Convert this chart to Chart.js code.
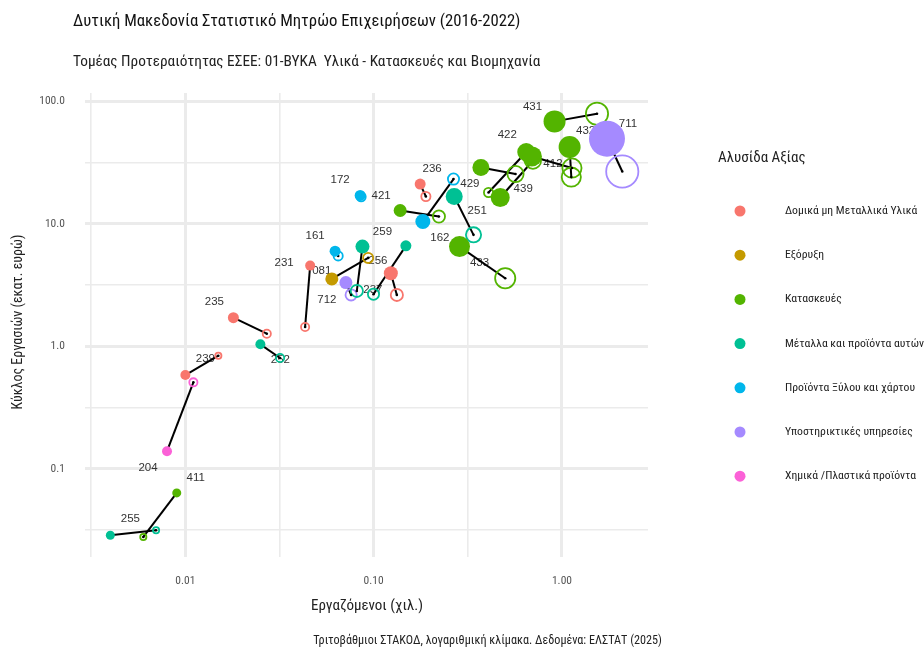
<!DOCTYPE html>
<html><head><meta charset="utf-8">
<script src="https://cdn.jsdelivr.net/npm/chart.js@4.4.1/dist/chart.umd.min.js"></script>
<style>html,body{margin:0;padding:0;background:#fff}canvas{display:block}</style>
</head><body>
<canvas id="c" width="924" height="649"></canvas>
<script>
// ---------------- DATA ----------------
const categories = ['Δομικά μη Μεταλλικά Υλικά','Εξόρυξη','Κατασκευές','Μέταλλα και προϊόντα αυτών','Προϊόντα Ξύλου και χάρτου','Υποστηρικτικές υπηρεσίες','Χημικά /Πλαστικά προϊόντα'];
const codes    = ['255','411','204','239','235','252','231','172','161','081','259','712','237','256','236','421','162','251','433','429','439','422','412','432','431','711'];
const chain    = [3,2,6,0,0,3,0,4,4,1,3,5,0,3,0,2,4,3,2,2,2,2,2,2,2,5];
// 2016 (hollow) - employees (thousands) and turnover (million €)
const emp2016  = [0.00699,0.00598,0.01103,0.01497,0.02707,0.03185,0.04325,0.0858,0.0648,0.0935,0.0814,0.0759,0.1328,0.0998,0.1894,0.2221,0.2655,0.3391,0.4996,0.5668,0.7014,0.4074,1.130,1.121,1.535,2.091];
const turn2016 = [0.03138,0.02767,0.5073,0.838,1.268,0.802,1.439,16.67,5.48,5.279,2.835,2.63,2.63,2.665,16.76,11.5,23.26,8.14,3.60,25.56,32.84,18.07,28.62,24.15,79.6,26.84];
// 2022 (filled)
const emp2022  = [0.003995,0.0090,0.00799,0.0100,0.01799,0.02503,0.046,0.08479,0.0624,0.05995,0.0872,0.0712,0.1234,0.1483,0.1766,0.1383,0.1825,0.2678,0.2857,0.3712,0.47,0.6461,0.6928,1.098,0.9135,1.734];
const turn2022 = [0.02856,0.0634,0.139,0.582,1.714,1.038,4.566,17.08,5.99,3.554,6.53,3.315,3.957,6.62,21.17,12.87,10.46,16.76,6.53,28.94,16.44,38.7,35.61,42.5,68.87,49.7];
// bubble size (radius estimate)
const size2016 = [4,4,5,4,5,5,5,5.5,5.5,6,7,6.5,7,6.5,5.5,7,6.5,8.5,11,9,9,5.5,10.5,10.5,12,17];
const size2022 = [4.5,4.5,5,5,5.5,5,5,5.5,5.5,6.5,7,6.5,7,5.5,5.5,6.5,7.5,8.5,10.5,8.5,9.5,9,10,11,11,18];
// axis ticks
const xTickValues = [0.01,0.1,1];
const xTickLabels = ['0.01','0.10','1.00'];
const yTickValues = [0.1,1,10,100];
const yTickLabels = ['0.1','1.0','10.0','100.0'];

// ---------------- STYLE ----------------
const colors = ['#F8766D','#C49A00','#53B400','#00C094','#00B6EB','#A58AFF','#FB61D7'];
const FC = '"Roboto Condensed","Liberation Sans Narrow","DejaVu Sans Condensed","Arial Narrow",sans-serif';
const FL = '"Liberation Sans",Arial,sans-serif';
// label offsets (px) relative to the 2022 point
const labelOffset = {
  '255':[20,-16],'411':[19,-15],'204':[-19,17],'239':[20,-16],'235':[-19,-16],'252':[20,16],'231':[-26,-3],
  '172':[-20,-16],'161':[-20,-15],'081':[-10,-8],'259':[20,-15],'712':[-19,17],'237':[-18,17],'256':[-28,15],
  '236':[12,-15],'421':[-19,-15],'162':[17,16],'251':[23,14],'433':[20,16],'429':[-11,16],'439':[23,-9],
  '422':[-19,-17],'412':[21,7],'432':[16,-16],'431':[-22,-15],'711':[21,-15]
};

function minorBetween(vals){ // gridline values: geometric midpoints + majors
  const out=[];
  vals.forEach(v=>{ out.push(v/Math.sqrt(10)); out.push(v); });
  return out;
}
const xGrid = minorBetween(xTickValues);
const yGrid = minorBetween(yTickValues);

const datasets = [];
codes.forEach((c,i)=>{
  datasets.push({type:'line', data:[{x:emp2016[i],y:turn2016[i]},{x:emp2022[i],y:turn2022[i]}],
    borderColor:'#000', borderWidth:2, pointRadius:0, order:5, tension:0});
});
categories.forEach((cat,k)=>{
  const idx = codes.map((c,i)=>i).filter(i=>chain[i]===k);
  datasets.push({type:'bubble', data: idx.map(i=>({x:emp2016[i],y:turn2016[i],r:size2016[i]-0.9})),
    backgroundColor:'rgba(255,255,255,0)', borderColor:colors[k], borderWidth:1.8, order:3});
  datasets.push({type:'bubble', data: idx.map(i=>({x:emp2022[i],y:turn2022[i],r:size2022[i]})),
    backgroundColor:colors[k], borderColor:colors[k], borderWidth:0, order:1});
});
datasets.push({type:'scatter', data: codes.map((c,i)=>({x:emp2016[i],y:turn2016[i]})),
  pointRadius:1.3, backgroundColor:'#000', borderWidth:0, order:2});

const decor = {
  id:'decor',
  beforeDatasetsDraw(chart){
    const ctx=chart.ctx, xs=chart.scales.x, ys=chart.scales.y;
    ctx.save();
    ctx.font='11.5px '+FL; ctx.fillStyle='#333'; ctx.textAlign='center'; ctx.textBaseline='middle';
    codes.forEach((c,i)=>{
      const o=labelOffset[c]||[0,0];
      ctx.fillText(c, xs.getPixelForValue(emp2022[i])+o[0], ys.getPixelForValue(turn2022[i])+o[1]);
    });
    ctx.restore();
  },
  afterDraw(chart){
    const ctx=chart.ctx, a=chart.chartArea;
    ctx.save();
    ctx.textBaseline='middle'; ctx.textAlign='left';
    ctx.fillStyle='#111'; ctx.font='16.7px '+FC;
    ctx.fillText('Δυτική Μακεδονία Στατιστικό Μητρώο Επιχειρήσεων (2016-2022)',73,22);
    ctx.font='15.3px '+FC; ctx.fillStyle='#222';
    ctx.fillText('Τομέας Προτεραιότητας ΕΣΕΕ: 01-ΒΥΚΑ  Υλικά - Κατασκευές και Βιομηχανία',73,62);
    // axis titles
    ctx.font='15px '+FC; ctx.fillStyle='#222'; ctx.textAlign='center';
    ctx.fillText('Εργαζόμενοι (χιλ.)',367,606);
    ctx.font='14px '+FC;
    ctx.save(); ctx.translate(18,322); ctx.rotate(-Math.PI/2);
    ctx.fillText('Κύκλος Εργασιών (εκατ. ευρώ)',0,0); ctx.restore();
    // caption
    ctx.font='12.2px '+FC; ctx.fillStyle='#222'; ctx.textAlign='right';
    ctx.fillText('Τριτοβάθμιοι ΣΤΑΚΟΔ, λογαριθμική κλίμακα. Δεδομένα: ΕΛΣΤΑΤ (2025)',662,641);
    // legend
    ctx.textAlign='left'; ctx.font='15px '+FC; ctx.fillStyle='#222';
    ctx.fillText('Αλυσίδα Αξίας',718,158);
    ctx.font='11.7px '+FC;
    categories.forEach((cat,k)=>{
      const y=211+k*44.2;
      ctx.beginPath(); ctx.arc(740,y,5.5,0,Math.PI*2); ctx.fillStyle=colors[k]; ctx.fill();
      ctx.fillStyle='#222'; ctx.fillText(cat,785,y);
    });
    ctx.restore();
  }
};

new Chart(document.getElementById('c'),{
  data:{datasets},
  options:{
    responsive:false, animation:false, events:[],
    layout:{padding:{top:93,right:276,bottom:0,left:0}},
    plugins:{legend:{display:false},tooltip:{enabled:false}},
    scales:{
      x:{type:'logarithmic', min:0.002931, max:2.864,
        afterBuildTicks:s=>{ s.ticks = xGrid.map(v=>({value:v})); },
        afterFit:s=>{ s.height=92; },
        ticks:{autoSkip:false,maxRotation:0,padding:17,color:'#555',font:{family:FC,size:11.5},
          callback:(v,i)=> i%2 ? xTickLabels[(i-1)/2] : ''},
        grid:{color:'#EBEBEB',drawTicks:false,lineWidth:c=> (c.index%2)?3:1.6},
        border:{display:false}},
      y:{type:'logarithmic', min:0.01897, max:117.5,
        afterBuildTicks:s=>{ s.ticks = yGrid.map(v=>({value:v})); },
        afterFit:s=>{ s.width=85; },
        ticks:{autoSkip:false,padding:20,color:'#555',font:{family:FC,size:11.5},
          callback:(v,i)=> i%2 ? yTickLabels[(i-1)/2] : ''},
        grid:{color:'#EBEBEB',drawTicks:false,lineWidth:c=> (c.index%2)?3:1.6},
        border:{display:false}}
    }
  },
  plugins:[decor]
});
</script>
</body></html>
